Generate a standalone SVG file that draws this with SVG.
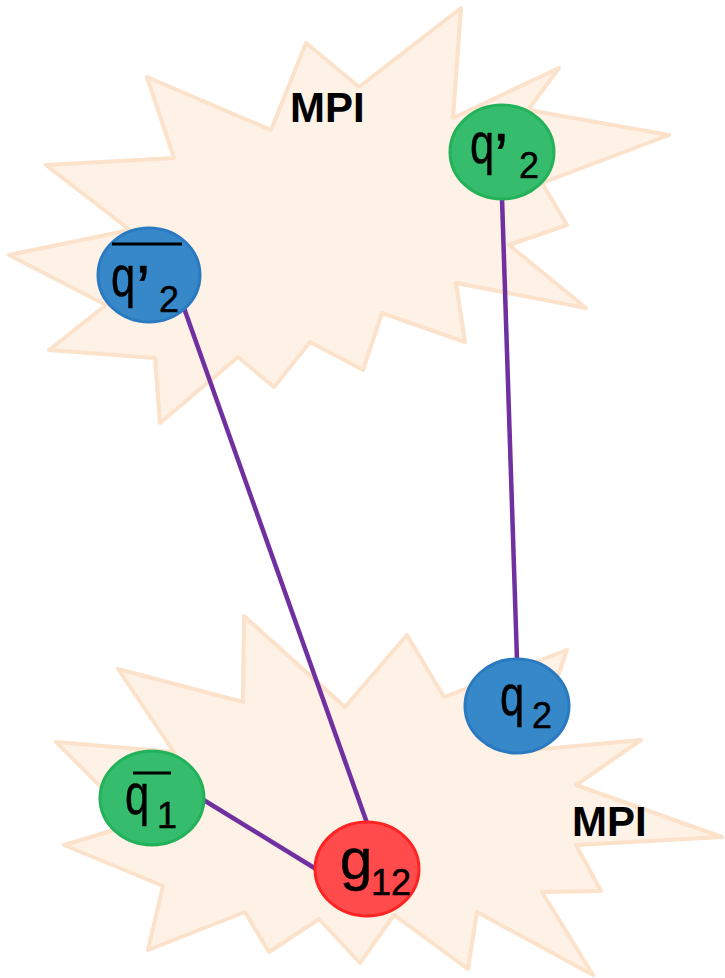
<svg xmlns="http://www.w3.org/2000/svg" width="725" height="978" viewBox="0 0 725 978">
  <style>
    .burst { fill: #FEF1E6; stroke: #FCE2CA; stroke-width: 4; stroke-linejoin: round; }
    .edge { stroke: #7030A0; stroke-width: 4.5; fill: none; }
    .blue { fill: #3688C9; stroke: #2A7AC2; stroke-width: 3; }
    .green { fill: #35BD6D; stroke: #23B15A; stroke-width: 3; }
    .red { fill: #FF4B4B; stroke: #FF2424; stroke-width: 3; }
    .lbl { font-family: "Liberation Sans", Arial, sans-serif; fill: #000; stroke: #000; stroke-width: 0.5; }
    .big { font-size: 58px; }
    .prime { font-size: 64px; }
    .sub { font-size: 36px; }
    .mpi { font-family: "Liberation Sans", Arial, sans-serif; font-weight: bold; font-size: 42px; fill: #000; }
    .bar { stroke: #000; stroke-width: 3; }
  </style>

  <rect width="725" height="978" fill="#FFFFFF"/>

  <!-- upper explosion region -->
  <g id="mpi-upper">
    <polygon class="burst" points="461,8 453,118 559,68 528,110 669,135 542,183 567,225 509,245 586,308 456,283 465,342 382,313 363,370 310,342 274,387 238,357 160,423 155,358 49,350 106,305 9,255 130,230 46,165 174,158 147,77 271,130 306,43 359,87"/>
    <text class="mpi" x="290" y="122">MPI</text>
  </g>

  <!-- lower explosion region -->
  <g id="mpi-lower">
    <polygon class="burst" points="244,616 345,707 407,635 444,697 567,650 532,750 641,740 576,785 722,837 576,845 601,891 542,892 593,975 477,912 468,969 394,915 360,963 319,919 269,952 245,912 148,950 163,886 64,845 137,823 56,742 174,752 118,669 243,702"/>
    <text class="mpi" x="572" y="836">MPI</text>
  </g>

  <!-- connectors -->
  <g id="connectors">
    <line class="edge" x1="184" y1="308" x2="367" y2="823"/>
    <line class="edge" x1="502" y1="198" x2="517" y2="660"/>
    <line class="edge" x1="202" y1="799" x2="316" y2="869"/>
  </g>

  <!-- q'2 with overline -->
  <g id="node-q2p-bar">
    <ellipse class="blue" cx="149" cy="275" rx="51" ry="47"/>
    <line class="bar" x1="112" y1="244" x2="182" y2="244"/>
    <text class="lbl big" transform="translate(111,296) scale(0.75,1)">q</text>
    <text class="lbl prime" x="136" y="311">’</text>
    <text class="lbl sub" x="159" y="312">2</text>
  </g>

  <!-- q'2 -->
  <g id="node-q2p">
    <ellipse class="green" cx="502" cy="152" rx="52" ry="47"/>
    <text class="lbl big" transform="translate(470,163) scale(0.75,1)">q</text>
    <text class="lbl prime" x="494" y="179">’</text>
    <text class="lbl sub" x="519" y="178">2</text>
  </g>

  <!-- q2 -->
  <g id="node-q2">
    <ellipse class="blue" cx="517" cy="706" rx="52" ry="47"/>
    <text class="lbl big" transform="translate(500,715) scale(0.75,1)">q</text>
    <text class="lbl sub" x="532" y="728">2</text>
  </g>

  <!-- q1 with overline -->
  <g id="node-q1-bar">
    <ellipse class="green" cx="152" cy="798" rx="52" ry="47"/>
    <line class="bar" x1="133" y1="773" x2="171" y2="773"/>
    <text class="lbl big" transform="translate(125,814) scale(0.75,1)">q</text>
    <text class="lbl sub" x="157" y="828">1</text>
  </g>

  <!-- g12 -->
  <g id="node-g12">
    <ellipse class="red" cx="367" cy="869" rx="52" ry="47"/>
    <text class="lbl big" x="340" y="879">g</text>
    <text class="lbl sub" x="371" y="895">12</text>
  </g>
</svg>
